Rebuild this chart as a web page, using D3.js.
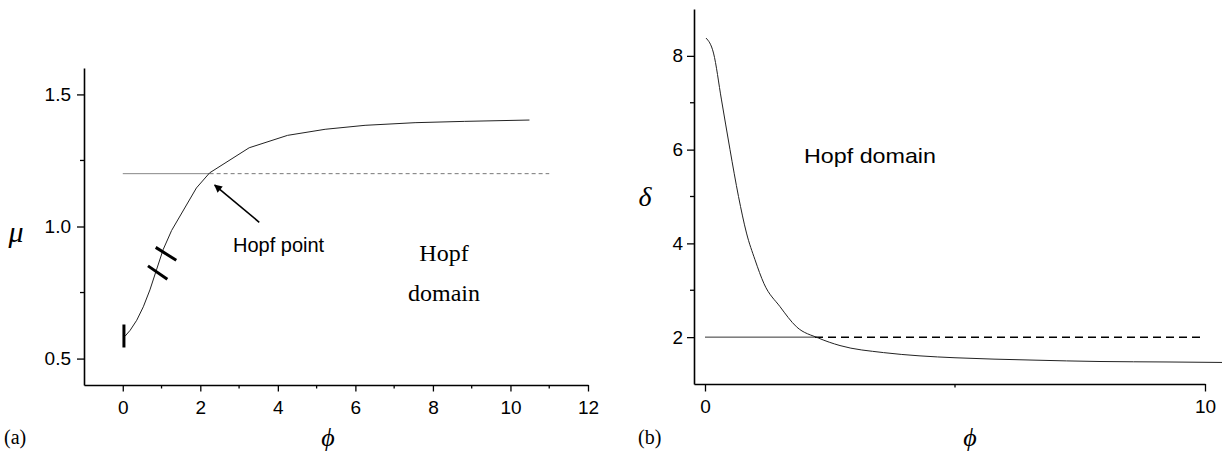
<!DOCTYPE html>
<html>
<head>
<meta charset="utf-8">
<script src="https://cdn.jsdelivr.net/npm/d3@7"></script>
<style>
  body { margin: 0; background: #fff; }
  svg { display: block; }
</style>
</head>
<body>
<svg></svg>
<script>
// panel (a): mu against phi
const phiA = [0.06, 0.19, 0.36, 0.53, 0.70, 0.87, 1.04, 1.26, 1.90, 2.24, 3.26, 4.25, 5.22, 6.25, 7.54, 8.82, 10.49];
const muA  = [0.585, 0.607, 0.645, 0.696, 0.76, 0.836, 0.912, 0.985, 1.146, 1.203, 1.298, 1.345, 1.368, 1.383, 1.393, 1.398, 1.403];
const muHopf = 1.2;
const phiHopfA = 2.24;
const phiEndA = 11.0;
const muTicks = [0.5, 1.0, 1.5];
const muMinor = [0.75, 1.25];
const phiTicksA = [0, 2, 4, 6, 8, 10, 12];
const phiMinorA = [1, 3, 5, 7, 9, 11];

// panel (b): delta against phi
const phiB   = [0.02, 0.17, 0.33, 0.5, 0.67, 0.83, 1.0, 1.18, 1.5, 1.83, 2.27, 2.7, 3.57, 4.3, 5.0, 6.56, 7.9, 9.24, 10.34];
const deltaB = [8.38, 8.06, 7.06, 6.0, 5.0, 4.22, 3.65, 3.14, 2.65, 2.22, 1.98, 1.82, 1.67, 1.60, 1.56, 1.51, 1.48, 1.47, 1.46];
const deltaHopf = 2;
const phiHopfB = 2.2;
const phiEndB = 10;
const deltaTicks = [2, 4, 6, 8];
const deltaMinor = [3, 5, 7];
const phiTicksB = [0, 10];
const phiMinorB = [5];

const width = 1229;
const height = 454;

let svg = d3.select('svg')
    .attr('width', width)
    .attr('height', height);

const serif = "'Liberation Serif', 'Times New Roman', serif";
const sans = "'Liberation Sans', Arial, sans-serif";

// arrow head
svg.append('defs').append('marker')
    .attr('id', 'head')
    .attr('viewBox', '0 0 10 10')
    .attr('refX', 9)
    .attr('refY', 5)
    .attr('markerWidth', 10)
    .attr('markerHeight', 8)
    .attr('markerUnits', 'userSpaceOnUse')
    .attr('orient', 'auto')
    .append('path')
    .attr('d', 'M0,0 L10,5 L0,10 Z')
    .attr('fill', '#000');

const drawAxes = (g, x, y, xt, xm, yt, ym, yFmt, yPad, xMajor) => {
    let xAxis = d3.axisBottom(x)
        .tickValues(xt)
        .tickSize(xMajor)
        .tickSizeOuter(0)
        .tickPadding(16 - xMajor)
        .tickFormat(d3.format('d'));
    let yAxis = d3.axisLeft(y)
        .tickValues(yt)
        .tickSize(7)
        .tickSizeOuter(0)
        .tickPadding(yPad)
        .tickFormat(yFmt);

    let gx = g.append('g')
        .attr('transform', 'translate(0,' + y.range()[0] + ')')
        .call(xAxis);
    gx.append('g').selectAll('line')
        .data(xm)
        .enter()
        .append('line')
        .attr('x1', d => x(d))
        .attr('x2', d => x(d))
        .attr('y1', 0)
        .attr('y2', 3.5)
        .attr('stroke', '#000')
        .attr('stroke-width', 1.3);

    let gy = g.append('g')
        .attr('transform', 'translate(' + x.range()[0] + ',0)')
        .call(yAxis);
    gy.append('g').selectAll('line')
        .data(ym)
        .enter()
        .append('line')
        .attr('x1', 0)
        .attr('x2', -4)
        .attr('y1', d => y(d))
        .attr('y2', d => y(d))
        .attr('stroke', '#000')
        .attr('stroke-width', 1.3);

    g.selectAll('.domain').attr('stroke', '#000').attr('stroke-width', 1.6);
    g.selectAll('.tick line').attr('stroke', '#000').attr('stroke-width', 1.3);
    g.selectAll('.tick text')
        .attr('fill', '#000')
        .style('font-family', sans)
        .style('font-size', '19px');
};

// ---------- panel (a) ----------
let gA = svg.append('g');
let xA = d3.scaleLinear().domain([-1, 12]).range([84, 588]);
let yA = d3.scaleLinear().domain([0.4, 1.6]).range([385, 68]);

drawAxes(gA, xA, yA, phiTicksA, phiMinorA, muTicks, muMinor, d3.format('.1f'), 6, 6.5);

gA.append('line')
    .attr('x1', xA(0)).attr('x2', xA(phiHopfA))
    .attr('y1', yA(muHopf)).attr('y2', yA(muHopf))
    .attr('stroke', '#888').attr('stroke-width', 1);
gA.append('line')
    .attr('x1', xA(phiHopfA)).attr('x2', xA(phiEndA))
    .attr('y1', yA(muHopf)).attr('y2', yA(muHopf))
    .attr('stroke', '#777').attr('stroke-width', 1)
    .attr('stroke-dasharray', '4,3');

let lineA = d3.line()
    .x(d => xA(d[0]))
    .y(d => yA(d[1]))
    .curve(d3.curveLinear);
gA.append('path')
    .datum(d3.zip(phiA, muA))
    .attr('d', lineA)
    .attr('fill', 'none')
    .attr('stroke', '#222')
    .attr('stroke-width', 1);

// short thick marks crossing the branch
const marks = [
    [[0.03, 0.629], [0.03, 0.542]],
    [[0.85, 0.921], [1.38, 0.872]],
    [[0.65, 0.851], [1.15, 0.800]]
];
gA.selectAll('.mark')
    .data(marks)
    .enter()
    .append('line')
    .attr('class', 'mark')
    .attr('x1', d => xA(d[0][0])).attr('y1', d => yA(d[0][1]))
    .attr('x2', d => xA(d[1][0])).attr('y2', d => yA(d[1][1]))
    .attr('stroke', '#000')
    .attr('stroke-width', 3);

// arrow to the Hopf point
gA.append('line')
    .attr('x1', xA(3.52)).attr('y1', yA(1.016))
    .attr('x2', xA(2.37)).attr('y2', yA(1.157))
    .attr('stroke', '#000')
    .attr('stroke-width', 1.6)
    .attr('marker-end', 'url(#head)');

gA.append('text')
    .attr('x', 233).attr('y', 252)
    .style('font-family', sans).style('font-size', '20px')
    .text('Hopf point');
gA.append('text')
    .attr('x', 444).attr('y', 261)
    .attr('text-anchor', 'middle')
    .style('font-family', serif).style('font-size', '24px')
    .text('Hopf');
gA.append('text')
    .attr('x', 444).attr('y', 301)
    .attr('text-anchor', 'middle')
    .style('font-family', serif).style('font-size', '24px')
    .text('domain');

gA.append('text')
    .attr('x', 16).attr('y', 242)
    .attr('text-anchor', 'middle')
    .style('font-family', serif).style('font-style', 'italic').style('font-size', '30px')
    .text('μ');
gA.append('text')
    .attr('x', 328).attr('y', 446)
    .attr('text-anchor', 'middle')
    .style('font-family', serif).style('font-style', 'italic').style('font-size', '26px')
    .text('ϕ');
gA.append('text')
    .attr('x', 4).attr('y', 444)
    .style('font-family', serif).style('font-size', '20px')
    .text('(a)');

// ---------- panel (b) ----------
let gB = svg.append('g');
let xB = d3.scaleLinear().domain([-0.22, 10]).range([694, 1205]);
let yB = d3.scaleLinear().domain([1, 9]).range([384, 9]);

drawAxes(gB, xB, yB, phiTicksB, phiMinorB, deltaTicks, deltaMinor, d3.format('d'), 4, 7.5);

gB.append('line')
    .attr('x1', xB(0)).attr('x2', xB(phiHopfB))
    .attr('y1', yB(deltaHopf)).attr('y2', yB(deltaHopf))
    .attr('stroke', '#333').attr('stroke-width', 1);
gB.append('line')
    .attr('x1', xB(phiHopfB)).attr('x2', xB(phiEndB))
    .attr('y1', yB(deltaHopf)).attr('y2', yB(deltaHopf))
    .attr('stroke', '#000').attr('stroke-width', 1.5)
    .attr('stroke-dasharray', '8,5');

let lineB = d3.line()
    .x(d => xB(d[0]))
    .y(d => yB(d[1]))
    .curve(d3.curveMonotoneX);
gB.append('path')
    .datum(d3.zip(phiB, deltaB))
    .attr('d', lineB)
    .attr('fill', 'none')
    .attr('stroke', '#222')
    .attr('stroke-width', 1);

gB.append('text')
    .attr('x', 804).attr('y', 163)
    .attr('textLength', 132)
    .attr('lengthAdjust', 'spacingAndGlyphs')
    .style('font-family', sans).style('font-size', '21px')
    .text('Hopf domain');

gB.append('text')
    .attr('x', 645).attr('y', 206)
    .attr('text-anchor', 'middle')
    .style('font-family', serif).style('font-style', 'italic').style('font-size', '28px')
    .text('δ');
gB.append('text')
    .attr('x', 970).attr('y', 446)
    .attr('text-anchor', 'middle')
    .style('font-family', serif).style('font-style', 'italic').style('font-size', '26px')
    .text('ϕ');
gB.append('text')
    .attr('x', 638).attr('y', 444)
    .style('font-family', serif).style('font-size', '20px')
    .text('(b)');
</script>
</body>
</html>
